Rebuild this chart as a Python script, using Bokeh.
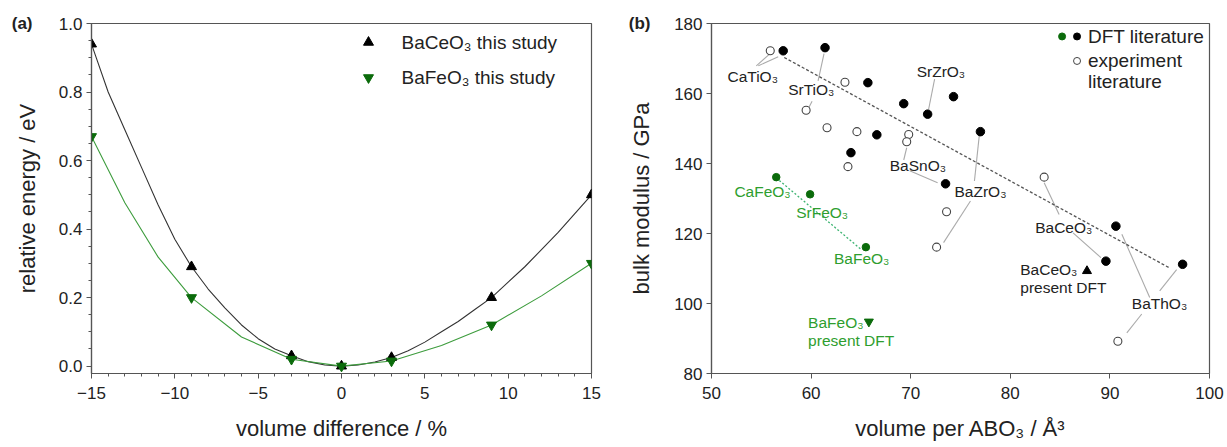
import numpy as np
from bokeh.plotting import figure
from bokeh.models import Range1d, FixedTicker, NumeralTickFormatter, LinearAxis
from bokeh.layouts import row
from bokeh.embed import file_html
from bokeh.resources import INLINE
from bokeh.core.properties import value

FONT = "Liberation Sans"

# ---------------- Panel (a) data ----------------
vol_diff = [-15, -9, -3, 0, 3, 9, 15]
e_baceo3 = [0.94, 0.29, 0.03, 0.0, 0.025, 0.20, 0.50]
e_bafeo3 = [0.67, 0.20, 0.02, 0.0, 0.015, 0.12, 0.30]

# fitted curves
fit_x_ce = [-15, -14, -13, -12, -11, -10, -9, -8, -7, -6, -5, -4, -3, -2, -1, 0, 1, 2, 3, 4, 5, 6, 7, 8, 9, 10, 11, 12, 13, 14, 15]
fit_y_ce = [0.94, 0.80, 0.69, 0.58, 0.47, 0.37, 0.29, 0.225, 0.17, 0.12, 0.08, 0.05, 0.03, 0.013, 0.003, 0.0, 0.003, 0.012, 0.025, 0.045, 0.07, 0.10, 0.13, 0.165, 0.20, 0.245, 0.29, 0.34, 0.39, 0.445, 0.50]
fit_x_fe = [-15, -13, -11, -9, -6, -3, 0, 3, 6, 9, 12, 15]
fit_y_fe = [0.67, 0.477, 0.318, 0.20, 0.085, 0.02, 0.0, 0.015, 0.06, 0.12, 0.205, 0.30]

# ---------------- Panel (b) data ----------------
dft_vol = [57.2, 61.4, 65.7, 69.3, 71.7, 74.3, 66.6, 64.0, 77.0, 73.5, 90.6, 89.6, 97.3]
dft_B = [172.2, 173.1, 163.1, 157.1, 154.1, 159.1, 148.2, 143.1, 149.1, 134.2, 122.1, 112.1, 111.2]
exp_vol = [55.9, 63.4, 59.5, 61.6, 64.6, 63.7, 69.8, 69.6, 73.6, 72.6, 83.4, 90.8]
exp_B = [172.2, 163.2, 155.2, 150.2, 149.1, 139.1, 148.3, 146.2, 126.2, 116.1, 136.1, 89.2]
fe_vol = [56.5, 59.9, 65.5]
fe_B = [136.1, 131.2, 116.1]
present_ce_vol = [87.7]
present_ce_B = [109.3]
present_fe_vol = [65.8]
present_fe_B = [94.8]
trend_vol = [57.3, 95.9]
trend_B = [170.3, 110.3]
fe_trend_vol = [56.5, 65.0]
fe_trend_B = [135.9, 115.5]

black_labels = ["CaTiO₃", "SrTiO₃", "SrZrO₃", "BaSnO₃", "BaZrO₃", "BaCeO₃", "BaThO₃"]
green_labels = ["CaFeO₃", "SrFeO₃", "BaFeO₃"]

# label placement (left x, middle y)
black_lab_x = [51.6, 57.7, 70.6, 67.9, 74.4, 82.5, 92.2]
black_lab_y = [165.0, 161.2, 166.3, 139.3, 132.0, 121.8, 99.9]
green_lab_x = [52.3, 58.5, 62.3]
green_lab_y = [132.0, 126.0, 112.9]

# leader lines
lead_x0 = [54.5, 54.7, 61.3, 60.1, 72.4, 69.3, 69.9, 76.9, 76.0, 83.4, 86.3, 91.2, 95.0, 93.2]
lead_y0 = [167.9, 167.9, 171.4, 157.8, 164.1, 141.0, 137.9, 148.4, 129.3, 134.5, 120.2, 119.8, 103.6, 97.0]
lead_x1 = [55.8, 56.7, 60.7, 59.6, 71.8, 69.6, 72.7, 76.4, 73.3, 84.9, 89.1, 94.0, 96.7, 91.7]
lead_y1 = [171.2, 170.5, 163.6, 155.1, 155.5, 144.5, 134.5, 135.0, 117.4, 125.4, 113.1, 101.7, 109.7, 91.6]

TXT = "#222222"
AXC = "#555555"
GREEN_M = "#0b6b0b"
GREEN_L = "#3d9c3d"
GREEN_T = "#2e9e2e"

W = 1227
H = 447
WA = 618
WB = W - WA


def style(p, tick_font="17px"):
    p.background_fill_color = "white"
    p.border_fill_color = "white"
    p.outline_line_color = AXC
    p.outline_line_width = 1.2
    p.xgrid.visible = False
    p.ygrid.visible = False
    for ax in (p.xaxis[0], p.yaxis[0]):
        ax.axis_line_color = AXC
        ax.axis_line_width = 1.2
        ax.major_tick_line_color = AXC
        ax.minor_tick_line_color = AXC
        ax.major_tick_out = 5
        ax.major_tick_in = 0
        ax.minor_tick_out = 3
        ax.minor_tick_in = 0
        ax.major_label_text_font = FONT
        ax.major_label_text_font_size = tick_font
        ax.major_label_text_color = TXT
        ax.axis_label_text_font = FONT
        ax.axis_label_text_font_size = "22px"
        ax.axis_label_text_font_style = "normal"
        ax.axis_label_text_color = TXT
    p.xaxis.major_label_standoff = 8
    p.yaxis.major_label_standoff = 4
    p.xaxis.axis_label_standoff = 14


def tag_axis(tick, tag, ylabel, tag_standoff, label_standoff):
    """Outer left axis that carries only the panel tag and the y-axis title."""
    ax = LinearAxis(ticker=FixedTicker(ticks=[tick]), major_label_overrides={tick: tag})
    ax.axis_line_color = None
    ax.major_tick_line_color = None
    ax.minor_tick_line_color = None
    ax.major_tick_out = 0
    ax.major_tick_in = 0
    ax.major_label_standoff = tag_standoff
    ax.major_label_text_font = FONT
    ax.major_label_text_font_size = "17px"
    ax.major_label_text_font_style = "bold"
    ax.major_label_text_color = TXT
    ax.axis_label = ylabel
    ax.axis_label_standoff = label_standoff
    ax.axis_label_text_font = FONT
    ax.axis_label_text_font_size = "22px"
    ax.axis_label_text_font_style = "normal"
    ax.axis_label_text_color = TXT
    return ax


# ---------------- Figure (a) ----------------
ml_a, mr_a, mt_a, mb_a = 91, 27, 22, 74
pa = figure(width=WA, height=H, x_range=Range1d(-15, 15), y_range=Range1d(-0.0216, 1.0),
            output_backend="svg", toolbar_location=None,
            min_border_left=ml_a, min_border_right=mr_a, min_border_top=mt_a, min_border_bottom=mb_a)
style(pa)
pa.xaxis.axis_label = "volume difference / %"
pa.xaxis.ticker = FixedTicker(ticks=[-15, -10, -5, 0, 5, 10, 15], minor_ticks=list(range(-15, 16)))
pa.yaxis.ticker = FixedTicker(ticks=[0, 0.2, 0.4, 0.6, 0.8, 1.0],
                              minor_ticks=[round(0.05 * i, 2) for i in range(21)])
pa.yaxis.formatter = NumeralTickFormatter(format="0.0")
pa.add_layout(tag_axis(1.0, "(a)", "relative energy / eV", 23, -31), "left")

pa.line(fit_x_ce, fit_y_ce, line_color="#333333", line_width=1.1)
pa.line(fit_x_fe, fit_y_fe, line_color=GREEN_L, line_width=1.1)
pa.scatter(vol_diff, e_baceo3, marker="triangle", size=10, fill_color="black", line_color="black")
pa.scatter(vol_diff, e_bafeo3, marker="inverted_triangle", size=10, fill_color=GREEN_M, line_color=GREEN_M)

# legend (a)
pa.scatter([1.62], [0.945], marker="triangle", size=10, fill_color="black", line_color="black")
pa.scatter([1.62], [0.842], marker="inverted_triangle", size=10, fill_color=GREEN_M, line_color=GREEN_M)
pa.text([3.6, 3.6], [0.945, 0.842], text=["BaCeO₃ this study", "BaFeO₃ this study"],
        text_font=value(FONT), text_font_size="19px", text_color=TXT,
        text_align="left", text_baseline="middle")

# ---------------- Figure (b) ----------------
ml_b, mr_b, mt_b, mb_b = 93, 18, 23, 74
pb = figure(width=WB, height=H, x_range=Range1d(50, 100), y_range=Range1d(80, 180),
            output_backend="svg", toolbar_location=None,
            min_border_left=ml_b, min_border_right=mr_b, min_border_top=mt_b, min_border_bottom=mb_b)
style(pb)
pb.xaxis.axis_label = "volume per ABO₃ / Å³"
pb.xaxis.ticker = FixedTicker(ticks=[50, 60, 70, 80, 90, 100])
pb.yaxis.ticker = FixedTicker(ticks=[80, 100, 120, 140, 160, 180])
pb.add_layout(tag_axis(180, "(b)", "bulk modulus / GPa", 21, -28), "left")

pb.segment(lead_x0, lead_y0, lead_x1, lead_y1, line_color="#aaaaaa", line_width=1.1)
pb.line(trend_vol, trend_B, line_color="#555555", line_width=1.3, line_dash="3 2")
pb.line(fe_trend_vol, fe_trend_B, line_color="#3cb371", line_width=1.3, line_dash="2 2")

pb.scatter(exp_vol, exp_B, marker="circle", size=8, fill_color="white", line_color="#444444", line_width=1.1)
pb.scatter(dft_vol, dft_B, marker="circle", size=8.5, fill_color="black", line_color="black")
pb.scatter(fe_vol, fe_B, marker="circle", size=7.5, fill_color=GREEN_M, line_color=GREEN_M)
pb.scatter(present_ce_vol, present_ce_B, marker="triangle", size=9, fill_color="black", line_color="black")
pb.scatter(present_fe_vol, present_fe_B, marker="inverted_triangle", size=9, fill_color=GREEN_M, line_color=GREEN_M)

pb.text(black_lab_x, black_lab_y, text=black_labels, text_font=value(FONT), text_font_size="15.5px",
        text_color=TXT, text_align="left", text_baseline="middle")
pb.text(green_lab_x, green_lab_y, text=green_labels, text_font=value(FONT), text_font_size="15.5px",
        text_color=GREEN_T, text_align="left", text_baseline="middle")
pb.text([81.0, 81.0], [109.7, 104.7], text=["BaCeO₃", "present DFT"], text_font=value(FONT),
        text_font_size="15.5px", text_color=TXT, text_align="left", text_baseline="middle")
pb.text([59.7, 59.7], [94.5, 89.4], text=["BaFeO₃", "present DFT"], text_font=value(FONT),
        text_font_size="15.5px", text_color=GREEN_T, text_align="left", text_baseline="middle")

# legend (b)
pb.scatter([85.2], [176.3], marker="circle", size=7, fill_color=GREEN_M, line_color=GREEN_M)
pb.scatter([86.7], [176.3], marker="circle", size=7, fill_color="black", line_color="black")
pb.scatter([86.7], [169.3], marker="circle", size=7, fill_color="white", line_color="#444444")
pb.text([87.8, 87.8, 87.8], [176.3, 169.3, 163.4], text=["DFT literature", "experiment", "literature"],
        text_font=value(FONT), text_font_size="19px", text_color=TXT, text_align="left",
        text_baseline="middle")

layout = row(pa, pb, spacing=0)
open("out.html", "w").write(file_html(layout, INLINE))
